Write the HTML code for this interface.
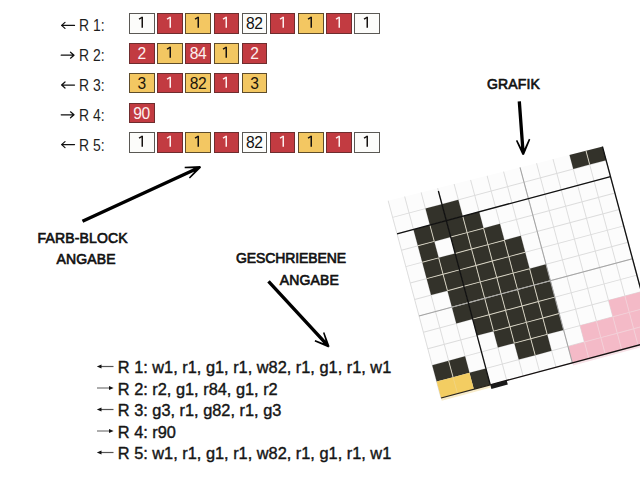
<!DOCTYPE html>
<html><head><meta charset="utf-8">
<style>
html,body{margin:0;padding:0;background:#fff;}
body{width:640px;height:480px;position:relative;overflow:hidden;font-family:"Liberation Sans",sans-serif;}
.lab{position:absolute;left:79.2px;font-size:16px;line-height:16px;transform:scaleX(0.87);transform-origin:0 0;color:#1e1e1e;white-space:nowrap;}
.cell{position:absolute;box-sizing:border-box;width:25.6px;height:20.7px;border:1px solid #5a5854;font-size:15.6px;line-height:19px;text-align:center;letter-spacing:-0.4px;text-indent:-0.4px;}
.cw{background:#fcfcfa;color:#111;}
.cr{background:#c23b41;color:#fdf0f0;border-color:#6e2d2e;}
.cy{background:#f3c762;color:#1a140a;border-color:#5e4c2a;}
.tt{position:absolute;font-weight:normal;font-size:14px;line-height:14px;color:#111;white-space:nowrap;-webkit-text-stroke:0.65px #111;letter-spacing:0.15px;}
.bl{position:absolute;left:117.8px;font-size:16.35px;line-height:16px;color:#151515;white-space:nowrap;-webkit-text-stroke:0.4px #151515;}
svg{position:absolute;left:0;top:0;}
</style></head><body>
<svg width="640" height="480">
<g transform="translate(446.3 220.6) rotate(-15.0) scale(17.0)">
<rect x="-3" y="10" width="3" height="0.16" fill="#f8eccb"/><rect x="5" y="10" width="6" height="0.16" fill="#f7e2e7"/>
<clipPath id="gc"><path d="M-3.5 -2.03L10.5 -1.82V11H-3.5Z"/></clipPath><g clip-path="url(#gc)">
<rect x="-3" y="-2.1" width="13" height="12.1" fill="#fcfcfc"/>
<line x1="-3" y1="-2.1" x2="-3" y2="10" stroke="#dcdcdc" stroke-width="0.055"/>
<line x1="-2" y1="-2.1" x2="-2" y2="10" stroke="#dcdcdc" stroke-width="0.055"/>
<line x1="-1" y1="-2.1" x2="-1" y2="10" stroke="#dcdcdc" stroke-width="0.055"/>
<line x1="0" y1="-2.1" x2="0" y2="10" stroke="#dcdcdc" stroke-width="0.055"/>
<line x1="1" y1="-2.1" x2="1" y2="10" stroke="#dcdcdc" stroke-width="0.055"/>
<line x1="2" y1="-2.1" x2="2" y2="10" stroke="#dcdcdc" stroke-width="0.055"/>
<line x1="3" y1="-2.1" x2="3" y2="10" stroke="#dcdcdc" stroke-width="0.055"/>
<line x1="4" y1="-2.1" x2="4" y2="10" stroke="#dcdcdc" stroke-width="0.055"/>
<line x1="5" y1="-2.1" x2="5" y2="10" stroke="#dcdcdc" stroke-width="0.055"/>
<line x1="6" y1="-2.1" x2="6" y2="10" stroke="#dcdcdc" stroke-width="0.055"/>
<line x1="7" y1="-2.1" x2="7" y2="10" stroke="#dcdcdc" stroke-width="0.055"/>
<line x1="8" y1="-2.1" x2="8" y2="10" stroke="#dcdcdc" stroke-width="0.055"/>
<line x1="9" y1="-2.1" x2="9" y2="10" stroke="#dcdcdc" stroke-width="0.055"/>
<line x1="10" y1="-2.1" x2="10" y2="10" stroke="#dcdcdc" stroke-width="0.055"/>
<line x1="-3" y1="-1" x2="10" y2="-1" stroke="#dcdcdc" stroke-width="0.055"/>
<line x1="-3" y1="0" x2="10" y2="0" stroke="#dcdcdc" stroke-width="0.055"/>
<line x1="-3" y1="1" x2="10" y2="1" stroke="#dcdcdc" stroke-width="0.055"/>
<line x1="-3" y1="2" x2="10" y2="2" stroke="#dcdcdc" stroke-width="0.055"/>
<line x1="-3" y1="3" x2="10" y2="3" stroke="#dcdcdc" stroke-width="0.055"/>
<line x1="-3" y1="4" x2="10" y2="4" stroke="#dcdcdc" stroke-width="0.055"/>
<line x1="-3" y1="5" x2="10" y2="5" stroke="#dcdcdc" stroke-width="0.055"/>
<line x1="-3" y1="6" x2="10" y2="6" stroke="#dcdcdc" stroke-width="0.055"/>
<line x1="-3" y1="7" x2="10" y2="7" stroke="#dcdcdc" stroke-width="0.055"/>
<line x1="-3" y1="8" x2="10" y2="8" stroke="#dcdcdc" stroke-width="0.055"/>
<line x1="-3" y1="9" x2="10" y2="9" stroke="#dcdcdc" stroke-width="0.055"/>
<line x1="-3" y1="10" x2="10" y2="10" stroke="#dcdcdc" stroke-width="0.055"/>
<rect x="8" y="-2" width="1" height="1" fill="#33322a"/>
<rect x="9" y="-2" width="1" height="1" fill="#33322a"/>
<rect x="-1" y="-1" width="1" height="1" fill="#33322a"/>
<rect x="0" y="-1" width="1" height="1" fill="#33322a"/>
<rect x="-2" y="0" width="1" height="1" fill="#33322a"/>
<rect x="-1" y="0" width="1" height="1" fill="#33322a"/>
<rect x="0" y="0" width="1" height="1" fill="#33322a"/>
<rect x="1" y="0" width="1" height="1" fill="#33322a"/>
<rect x="-2" y="1" width="1" height="1" fill="#33322a"/>
<rect x="0" y="1" width="1" height="1" fill="#33322a"/>
<rect x="1" y="1" width="1" height="1" fill="#33322a"/>
<rect x="2" y="1" width="1" height="1" fill="#33322a"/>
<rect x="-2" y="2" width="1" height="1" fill="#33322a"/>
<rect x="-1" y="2" width="1" height="1" fill="#33322a"/>
<rect x="0" y="2" width="1" height="1" fill="#33322a"/>
<rect x="1" y="2" width="1" height="1" fill="#33322a"/>
<rect x="2" y="2" width="1" height="1" fill="#33322a"/>
<rect x="3" y="2" width="1" height="1" fill="#33322a"/>
<rect x="-2" y="3" width="1" height="1" fill="#33322a"/>
<rect x="-1" y="3" width="1" height="1" fill="#33322a"/>
<rect x="0" y="3" width="1" height="1" fill="#33322a"/>
<rect x="1" y="3" width="1" height="1" fill="#33322a"/>
<rect x="2" y="3" width="1" height="1" fill="#33322a"/>
<rect x="3" y="3" width="1" height="1" fill="#33322a"/>
<rect x="-1" y="4" width="1" height="1" fill="#33322a"/>
<rect x="0" y="4" width="1" height="1" fill="#33322a"/>
<rect x="1" y="4" width="1" height="1" fill="#33322a"/>
<rect x="2" y="4" width="1" height="1" fill="#33322a"/>
<rect x="3" y="4" width="1" height="1" fill="#33322a"/>
<rect x="4" y="4" width="1" height="1" fill="#33322a"/>
<rect x="-1" y="5" width="1" height="1" fill="#33322a"/>
<rect x="0" y="5" width="1" height="1" fill="#33322a"/>
<rect x="1" y="5" width="1" height="1" fill="#33322a"/>
<rect x="2" y="5" width="1" height="1" fill="#33322a"/>
<rect x="3" y="5" width="1" height="1" fill="#33322a"/>
<rect x="4" y="5" width="1" height="1" fill="#33322a"/>
<rect x="0" y="6" width="1" height="1" fill="#33322a"/>
<rect x="1" y="6" width="1" height="1" fill="#33322a"/>
<rect x="2" y="6" width="1" height="1" fill="#33322a"/>
<rect x="3" y="6" width="1" height="1" fill="#33322a"/>
<rect x="4" y="6" width="1" height="1" fill="#33322a"/>
<rect x="1" y="7" width="1" height="1" fill="#33322a"/>
<rect x="2" y="7" width="1" height="1" fill="#33322a"/>
<rect x="3" y="7" width="1" height="1" fill="#33322a"/>
<rect x="4" y="7" width="1" height="1" fill="#33322a"/>
<rect x="-3" y="8" width="1" height="1" fill="#33322a"/>
<rect x="-2" y="8" width="1" height="1" fill="#33322a"/>
<rect x="2" y="8" width="1" height="1" fill="#33322a"/>
<rect x="3" y="8" width="1" height="1" fill="#33322a"/>
<rect x="-1" y="9" width="1" height="1" fill="#33322a"/>
<rect x="-3" y="9" width="1" height="1" fill="#f3cd62"/>
<rect x="-2" y="9" width="1" height="1" fill="#f3cd62"/>
<rect x="8" y="7" width="1" height="1" fill="#f4bac7"/>
<rect x="9" y="7" width="1" height="1" fill="#f4bac7"/>
<rect x="6" y="8" width="1" height="1" fill="#f4bac7"/>
<rect x="7" y="8" width="1" height="1" fill="#f4bac7"/>
<rect x="8" y="8" width="1" height="1" fill="#f4bac7"/>
<rect x="9" y="8" width="1" height="1" fill="#f4bac7"/>
<rect x="5" y="9" width="1" height="1" fill="#f4bac7"/>
<rect x="6" y="9" width="1" height="1" fill="#f4bac7"/>
<rect x="7" y="9" width="1" height="1" fill="#f4bac7"/>
<rect x="8" y="9" width="1" height="1" fill="#f4bac7"/>
<rect x="9" y="9" width="1" height="1" fill="#f4bac7"/>
<line x1="9" y1="-2" x2="9" y2="-1" stroke="#d8d4c4" stroke-width="0.055"/>
<line x1="-1" y1="0" x2="-1" y2="1" stroke="#d8d4c4" stroke-width="0.055"/>
<line x1="1" y1="0" x2="1" y2="1" stroke="#d8d4c4" stroke-width="0.055"/>
<line x1="-2" y1="1" x2="-1" y2="1" stroke="#d8d4c4" stroke-width="0.055"/>
<line x1="0" y1="1" x2="1" y2="1" stroke="#d8d4c4" stroke-width="0.055"/>
<line x1="1" y1="1" x2="1" y2="2" stroke="#d8d4c4" stroke-width="0.055"/>
<line x1="1" y1="1" x2="2" y2="1" stroke="#d8d4c4" stroke-width="0.055"/>
<line x1="2" y1="1" x2="2" y2="2" stroke="#d8d4c4" stroke-width="0.055"/>
<line x1="-2" y1="2" x2="-1" y2="2" stroke="#d8d4c4" stroke-width="0.055"/>
<line x1="-1" y1="2" x2="-1" y2="3" stroke="#d8d4c4" stroke-width="0.055"/>
<line x1="0" y1="2" x2="1" y2="2" stroke="#d8d4c4" stroke-width="0.055"/>
<line x1="1" y1="2" x2="1" y2="3" stroke="#d8d4c4" stroke-width="0.055"/>
<line x1="1" y1="2" x2="2" y2="2" stroke="#d8d4c4" stroke-width="0.055"/>
<line x1="2" y1="2" x2="2" y2="3" stroke="#d8d4c4" stroke-width="0.055"/>
<line x1="2" y1="2" x2="3" y2="2" stroke="#d8d4c4" stroke-width="0.055"/>
<line x1="3" y1="2" x2="3" y2="3" stroke="#d8d4c4" stroke-width="0.055"/>
<line x1="-2" y1="3" x2="-1" y2="3" stroke="#d8d4c4" stroke-width="0.055"/>
<line x1="-1" y1="3" x2="-1" y2="4" stroke="#d8d4c4" stroke-width="0.055"/>
<line x1="-1" y1="3" x2="0" y2="3" stroke="#d8d4c4" stroke-width="0.055"/>
<line x1="0" y1="3" x2="1" y2="3" stroke="#d8d4c4" stroke-width="0.055"/>
<line x1="1" y1="3" x2="1" y2="4" stroke="#d8d4c4" stroke-width="0.055"/>
<line x1="1" y1="3" x2="2" y2="3" stroke="#d8d4c4" stroke-width="0.055"/>
<line x1="2" y1="3" x2="2" y2="4" stroke="#d8d4c4" stroke-width="0.055"/>
<line x1="2" y1="3" x2="3" y2="3" stroke="#d8d4c4" stroke-width="0.055"/>
<line x1="3" y1="3" x2="3" y2="4" stroke="#d8d4c4" stroke-width="0.055"/>
<line x1="3" y1="3" x2="4" y2="3" stroke="#d8d4c4" stroke-width="0.055"/>
<line x1="-1" y1="4" x2="0" y2="4" stroke="#d8d4c4" stroke-width="0.055"/>
<line x1="0" y1="4" x2="1" y2="4" stroke="#d8d4c4" stroke-width="0.055"/>
<line x1="1" y1="4" x2="1" y2="5" stroke="#d8d4c4" stroke-width="0.055"/>
<line x1="1" y1="4" x2="2" y2="4" stroke="#d8d4c4" stroke-width="0.055"/>
<line x1="2" y1="4" x2="2" y2="5" stroke="#d8d4c4" stroke-width="0.055"/>
<line x1="2" y1="4" x2="3" y2="4" stroke="#d8d4c4" stroke-width="0.055"/>
<line x1="3" y1="4" x2="3" y2="5" stroke="#d8d4c4" stroke-width="0.055"/>
<line x1="3" y1="4" x2="4" y2="4" stroke="#d8d4c4" stroke-width="0.055"/>
<line x1="4" y1="4" x2="4" y2="5" stroke="#d8d4c4" stroke-width="0.055"/>
<line x1="-1" y1="5" x2="0" y2="5" stroke="#d8d4c4" stroke-width="0.055"/>
<line x1="0" y1="5" x2="1" y2="5" stroke="#d8d4c4" stroke-width="0.055"/>
<line x1="1" y1="5" x2="1" y2="6" stroke="#d8d4c4" stroke-width="0.055"/>
<line x1="1" y1="5" x2="2" y2="5" stroke="#d8d4c4" stroke-width="0.055"/>
<line x1="2" y1="5" x2="2" y2="6" stroke="#d8d4c4" stroke-width="0.055"/>
<line x1="2" y1="5" x2="3" y2="5" stroke="#d8d4c4" stroke-width="0.055"/>
<line x1="3" y1="5" x2="3" y2="6" stroke="#d8d4c4" stroke-width="0.055"/>
<line x1="3" y1="5" x2="4" y2="5" stroke="#d8d4c4" stroke-width="0.055"/>
<line x1="4" y1="5" x2="4" y2="6" stroke="#d8d4c4" stroke-width="0.055"/>
<line x1="4" y1="5" x2="5" y2="5" stroke="#d8d4c4" stroke-width="0.055"/>
<line x1="0" y1="6" x2="1" y2="6" stroke="#d8d4c4" stroke-width="0.055"/>
<line x1="1" y1="6" x2="1" y2="7" stroke="#d8d4c4" stroke-width="0.055"/>
<line x1="1" y1="6" x2="2" y2="6" stroke="#d8d4c4" stroke-width="0.055"/>
<line x1="2" y1="6" x2="2" y2="7" stroke="#d8d4c4" stroke-width="0.055"/>
<line x1="2" y1="6" x2="3" y2="6" stroke="#d8d4c4" stroke-width="0.055"/>
<line x1="3" y1="6" x2="3" y2="7" stroke="#d8d4c4" stroke-width="0.055"/>
<line x1="3" y1="6" x2="4" y2="6" stroke="#d8d4c4" stroke-width="0.055"/>
<line x1="4" y1="6" x2="4" y2="7" stroke="#d8d4c4" stroke-width="0.055"/>
<line x1="4" y1="6" x2="5" y2="6" stroke="#d8d4c4" stroke-width="0.055"/>
<line x1="1" y1="7" x2="2" y2="7" stroke="#d8d4c4" stroke-width="0.055"/>
<line x1="2" y1="7" x2="2" y2="8" stroke="#d8d4c4" stroke-width="0.055"/>
<line x1="2" y1="7" x2="3" y2="7" stroke="#d8d4c4" stroke-width="0.055"/>
<line x1="3" y1="7" x2="3" y2="8" stroke="#d8d4c4" stroke-width="0.055"/>
<line x1="3" y1="7" x2="4" y2="7" stroke="#d8d4c4" stroke-width="0.055"/>
<line x1="4" y1="7" x2="4" y2="8" stroke="#d8d4c4" stroke-width="0.055"/>
<line x1="4" y1="7" x2="5" y2="7" stroke="#d8d4c4" stroke-width="0.055"/>
<line x1="-2" y1="8" x2="-2" y2="9" stroke="#d8d4c4" stroke-width="0.055"/>
<line x1="2" y1="8" x2="3" y2="8" stroke="#d8d4c4" stroke-width="0.055"/>
<line x1="3" y1="8" x2="3" y2="9" stroke="#d8d4c4" stroke-width="0.055"/>
<line x1="3" y1="8" x2="4" y2="8" stroke="#d8d4c4" stroke-width="0.055"/>
<line x1="-2" y1="9" x2="-2" y2="10" stroke="#f1d27a" stroke-width="0.055"/>
<line x1="9" y1="7" x2="9" y2="8" stroke="#f3d0d8" stroke-width="0.055"/>
<line x1="7" y1="8" x2="7" y2="9" stroke="#f3d0d8" stroke-width="0.055"/>
<line x1="8" y1="8" x2="8" y2="9" stroke="#f3d0d8" stroke-width="0.055"/>
<line x1="8" y1="8" x2="9" y2="8" stroke="#f3d0d8" stroke-width="0.055"/>
<line x1="9" y1="8" x2="9" y2="9" stroke="#f3d0d8" stroke-width="0.055"/>
<line x1="9" y1="8" x2="10" y2="8" stroke="#f3d0d8" stroke-width="0.055"/>
<line x1="6" y1="9" x2="6" y2="10" stroke="#f3d0d8" stroke-width="0.055"/>
<line x1="6" y1="9" x2="7" y2="9" stroke="#f3d0d8" stroke-width="0.055"/>
<line x1="7" y1="9" x2="7" y2="10" stroke="#f3d0d8" stroke-width="0.055"/>
<line x1="7" y1="9" x2="8" y2="9" stroke="#f3d0d8" stroke-width="0.055"/>
<line x1="8" y1="9" x2="8" y2="10" stroke="#f3d0d8" stroke-width="0.055"/>
<line x1="8" y1="9" x2="9" y2="9" stroke="#f3d0d8" stroke-width="0.055"/>
<line x1="9" y1="9" x2="9" y2="10" stroke="#f3d0d8" stroke-width="0.055"/>
<line x1="9" y1="9" x2="10" y2="9" stroke="#f3d0d8" stroke-width="0.055"/>
<line x1="5" y1="-2.1" x2="5" y2="10" stroke="#a4a4a4" stroke-width="0.06"/>
<line x1="-3" y1="5" x2="10" y2="5" stroke="#a4a4a4" stroke-width="0.06"/>
<line x1="0" y1="-1.8" x2="0" y2="10" stroke="#111" stroke-width="0.078"/>
<line x1="10" y1="-2.1" x2="10" y2="10" stroke="#111" stroke-width="0.078"/>
<line x1="-3" y1="0" x2="10" y2="0" stroke="#111" stroke-width="0.078"/>
<line x1="0" y1="10" x2="10" y2="10" stroke="#151010" stroke-width="0.078"/>
<line x1="-3" y1="10" x2="0" y2="10" stroke="#2a2418" stroke-width="0.075"/>
<rect x="0" y="10" width="1" height="0.25" fill="#1a1a1a"/>
</g></g>
<g stroke="#111" stroke-width="1.25" fill="none" stroke-linecap="round" stroke-linejoin="round">
<path d="M61.6 25.4H74.5M65 22.4L61.6 25.4L65 28.4"/>
<path d="M61.2 55.2H74M70.5 52.2L74 55.2L70.5 58.2"/>
<path d="M61.6 85.0H74.5M65 82.0L61.6 85.0L65 88.0"/>
<path d="M61.2 114.8H74M70.5 111.8L74 114.8L70.5 117.8"/>
<path d="M61.6 144.6H74.5M65 141.6L61.6 144.6L65 147.6"/>
</g>
<path d="M100 366.5H113.5" stroke="#555" stroke-width="1.2" fill="none"/><path d="M96.8 366.5L101.5 364.5V368.5Z" fill="#111"/>
<path d="M97 388.0H110" stroke="#777" stroke-width="1.2" fill="none"/><path d="M113.6 388.0L109 386.0V390.0Z" fill="#111"/>
<path d="M100 409.5H113.5" stroke="#555" stroke-width="1.2" fill="none"/><path d="M96.8 409.5L101.5 407.5V411.5Z" fill="#111"/>
<path d="M97 431.0H110" stroke="#777" stroke-width="1.2" fill="none"/><path d="M113.6 431.0L109 429.0V433.0Z" fill="#111"/>
<path d="M100 452.5H113.5" stroke="#555" stroke-width="1.2" fill="none"/><path d="M96.8 452.5L101.5 450.5V454.5Z" fill="#111"/>
<path fill="#000" d="M83.21 222.84L198.34 169.79L196.92 166.70L81.79 219.76Z M184.71 168.15L200.51 168.29L200.49 166.09L184.69 166.65Z M189.94 178.62L201.11 167.53L199.52 166.00L188.86 177.58Z"/>
<path fill="#000" d="M267.25 282.45L325.46 345.52L327.95 343.21L269.75 280.15Z M322.99 332.64L327.55 347.12L329.63 346.41L324.41 332.16Z M314.62 341.50L328.55 347.44L329.37 345.40L315.18 340.10Z"/>
<path fill="#000" d="M517.65 101.42L521.37 151.63L524.66 151.39L520.95 101.18Z M515.92 140.63L522.47 155.02L524.45 154.06L517.28 139.97Z M528.91 138.80L521.95 154.12L523.97 154.99L530.29 139.40Z"/>
</svg>
<div class="lab" style="top:18.3px">R 1:</div>
<div class="cell cw" style="left:129.0px;top:13.2px"><svg width="8" height="13" viewBox="0 0 8 13" style="position:absolute;left:6.9px;top:2px"><path fill="#161210" d="M4.5 0.8H6.0V11.7H4.5Z"/><path d="M5.1 1.3L2.0 3.1" stroke="#161210" stroke-width="1.35" fill="none"/></svg></div>
<div class="cell cr" style="left:157.2px;top:13.2px"><svg width="8" height="13" viewBox="0 0 8 13" style="position:absolute;left:6.9px;top:2px"><path fill="#fdf0f0" d="M4.5 0.8H6.0V11.7H4.5Z"/><path d="M5.1 1.3L2.0 3.1" stroke="#fdf0f0" stroke-width="1.35" fill="none"/></svg></div>
<div class="cell cy" style="left:185.4px;top:13.2px"><svg width="8" height="13" viewBox="0 0 8 13" style="position:absolute;left:6.9px;top:2px"><path fill="#161210" d="M4.5 0.8H6.0V11.7H4.5Z"/><path d="M5.1 1.3L2.0 3.1" stroke="#161210" stroke-width="1.35" fill="none"/></svg></div>
<div class="cell cr" style="left:213.5px;top:13.2px"><svg width="8" height="13" viewBox="0 0 8 13" style="position:absolute;left:6.9px;top:2px"><path fill="#fdf0f0" d="M4.5 0.8H6.0V11.7H4.5Z"/><path d="M5.1 1.3L2.0 3.1" stroke="#fdf0f0" stroke-width="1.35" fill="none"/></svg></div>
<div class="cell cw" style="left:241.7px;top:13.2px">82</div>
<div class="cell cr" style="left:269.9px;top:13.2px"><svg width="8" height="13" viewBox="0 0 8 13" style="position:absolute;left:6.9px;top:2px"><path fill="#fdf0f0" d="M4.5 0.8H6.0V11.7H4.5Z"/><path d="M5.1 1.3L2.0 3.1" stroke="#fdf0f0" stroke-width="1.35" fill="none"/></svg></div>
<div class="cell cy" style="left:298.1px;top:13.2px"><svg width="8" height="13" viewBox="0 0 8 13" style="position:absolute;left:6.9px;top:2px"><path fill="#161210" d="M4.5 0.8H6.0V11.7H4.5Z"/><path d="M5.1 1.3L2.0 3.1" stroke="#161210" stroke-width="1.35" fill="none"/></svg></div>
<div class="cell cr" style="left:326.3px;top:13.2px"><svg width="8" height="13" viewBox="0 0 8 13" style="position:absolute;left:6.9px;top:2px"><path fill="#fdf0f0" d="M4.5 0.8H6.0V11.7H4.5Z"/><path d="M5.1 1.3L2.0 3.1" stroke="#fdf0f0" stroke-width="1.35" fill="none"/></svg></div>
<div class="cell cw" style="left:354.4px;top:13.2px"><svg width="8" height="13" viewBox="0 0 8 13" style="position:absolute;left:6.9px;top:2px"><path fill="#161210" d="M4.5 0.8H6.0V11.7H4.5Z"/><path d="M5.1 1.3L2.0 3.1" stroke="#161210" stroke-width="1.35" fill="none"/></svg></div>
<div class="lab" style="top:48.1px">R 2:</div>
<div class="cell cr" style="left:129.0px;top:43.0px">2</div>
<div class="cell cy" style="left:157.2px;top:43.0px"><svg width="8" height="13" viewBox="0 0 8 13" style="position:absolute;left:6.9px;top:2px"><path fill="#161210" d="M4.5 0.8H6.0V11.7H4.5Z"/><path d="M5.1 1.3L2.0 3.1" stroke="#161210" stroke-width="1.35" fill="none"/></svg></div>
<div class="cell cr" style="left:185.4px;top:43.0px">84</div>
<div class="cell cy" style="left:213.5px;top:43.0px"><svg width="8" height="13" viewBox="0 0 8 13" style="position:absolute;left:6.9px;top:2px"><path fill="#161210" d="M4.5 0.8H6.0V11.7H4.5Z"/><path d="M5.1 1.3L2.0 3.1" stroke="#161210" stroke-width="1.35" fill="none"/></svg></div>
<div class="cell cr" style="left:241.7px;top:43.0px">2</div>
<div class="lab" style="top:77.9px">R 3:</div>
<div class="cell cy" style="left:129.0px;top:72.8px">3</div>
<div class="cell cr" style="left:157.2px;top:72.8px"><svg width="8" height="13" viewBox="0 0 8 13" style="position:absolute;left:6.9px;top:2px"><path fill="#fdf0f0" d="M4.5 0.8H6.0V11.7H4.5Z"/><path d="M5.1 1.3L2.0 3.1" stroke="#fdf0f0" stroke-width="1.35" fill="none"/></svg></div>
<div class="cell cy" style="left:185.4px;top:72.8px">82</div>
<div class="cell cr" style="left:213.5px;top:72.8px"><svg width="8" height="13" viewBox="0 0 8 13" style="position:absolute;left:6.9px;top:2px"><path fill="#fdf0f0" d="M4.5 0.8H6.0V11.7H4.5Z"/><path d="M5.1 1.3L2.0 3.1" stroke="#fdf0f0" stroke-width="1.35" fill="none"/></svg></div>
<div class="cell cy" style="left:241.7px;top:72.8px">3</div>
<div class="lab" style="top:107.7px">R 4:</div>
<div class="cell cr" style="left:129.0px;top:102.6px">90</div>
<div class="lab" style="top:137.5px">R 5:</div>
<div class="cell cw" style="left:129.0px;top:132.4px"><svg width="8" height="13" viewBox="0 0 8 13" style="position:absolute;left:6.9px;top:2px"><path fill="#161210" d="M4.5 0.8H6.0V11.7H4.5Z"/><path d="M5.1 1.3L2.0 3.1" stroke="#161210" stroke-width="1.35" fill="none"/></svg></div>
<div class="cell cr" style="left:157.2px;top:132.4px"><svg width="8" height="13" viewBox="0 0 8 13" style="position:absolute;left:6.9px;top:2px"><path fill="#fdf0f0" d="M4.5 0.8H6.0V11.7H4.5Z"/><path d="M5.1 1.3L2.0 3.1" stroke="#fdf0f0" stroke-width="1.35" fill="none"/></svg></div>
<div class="cell cy" style="left:185.4px;top:132.4px"><svg width="8" height="13" viewBox="0 0 8 13" style="position:absolute;left:6.9px;top:2px"><path fill="#161210" d="M4.5 0.8H6.0V11.7H4.5Z"/><path d="M5.1 1.3L2.0 3.1" stroke="#161210" stroke-width="1.35" fill="none"/></svg></div>
<div class="cell cr" style="left:213.5px;top:132.4px"><svg width="8" height="13" viewBox="0 0 8 13" style="position:absolute;left:6.9px;top:2px"><path fill="#fdf0f0" d="M4.5 0.8H6.0V11.7H4.5Z"/><path d="M5.1 1.3L2.0 3.1" stroke="#fdf0f0" stroke-width="1.35" fill="none"/></svg></div>
<div class="cell cw" style="left:241.7px;top:132.4px">82</div>
<div class="cell cr" style="left:269.9px;top:132.4px"><svg width="8" height="13" viewBox="0 0 8 13" style="position:absolute;left:6.9px;top:2px"><path fill="#fdf0f0" d="M4.5 0.8H6.0V11.7H4.5Z"/><path d="M5.1 1.3L2.0 3.1" stroke="#fdf0f0" stroke-width="1.35" fill="none"/></svg></div>
<div class="cell cy" style="left:298.1px;top:132.4px"><svg width="8" height="13" viewBox="0 0 8 13" style="position:absolute;left:6.9px;top:2px"><path fill="#161210" d="M4.5 0.8H6.0V11.7H4.5Z"/><path d="M5.1 1.3L2.0 3.1" stroke="#161210" stroke-width="1.35" fill="none"/></svg></div>
<div class="cell cr" style="left:326.3px;top:132.4px"><svg width="8" height="13" viewBox="0 0 8 13" style="position:absolute;left:6.9px;top:2px"><path fill="#fdf0f0" d="M4.5 0.8H6.0V11.7H4.5Z"/><path d="M5.1 1.3L2.0 3.1" stroke="#fdf0f0" stroke-width="1.35" fill="none"/></svg></div>
<div class="cell cw" style="left:354.4px;top:132.4px"><svg width="8" height="13" viewBox="0 0 8 13" style="position:absolute;left:6.9px;top:2px"><path fill="#161210" d="M4.5 0.8H6.0V11.7H4.5Z"/><path d="M5.1 1.3L2.0 3.1" stroke="#161210" stroke-width="1.35" fill="none"/></svg></div>
<div class="tt" style="left:37.5px;top:230.9px">FARB-BLOCK</div>
<div class="tt" style="left:56.4px;top:251.6px">ANGABE</div>
<div class="tt" style="left:236px;top:251.4px;letter-spacing:-0.1px">GESCHRIEBENE</div>
<div class="tt" style="left:279.8px;top:272.6px">ANGABE</div>
<div class="tt" style="left:487px;top:76.6px">GRAFIK</div>
<div class="bl" style="top:359.2px">R 1: w1, r1, g1, r1, w82, r1, g1, r1, w1</div>
<div class="bl" style="top:380.7px">R 2: r2, g1, r84, g1, r2</div>
<div class="bl" style="top:402.2px">R 3: g3, r1, g82, r1, g3</div>
<div class="bl" style="top:423.7px">R 4: r90</div>
<div class="bl" style="top:445.2px">R 5: w1, r1, g1, r1, w82, r1, g1, r1, w1</div>
</body></html>
